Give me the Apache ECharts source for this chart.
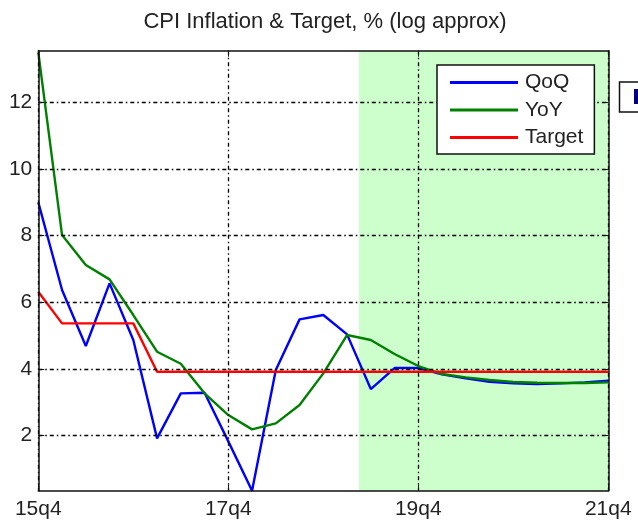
<!DOCTYPE html>
<html>
<head>
<meta charset="utf-8">
<script src="https://cdn.jsdelivr.net/npm/echarts@6/dist/echarts.min.js"></script>
<style>
  html, body { margin: 0; padding: 0; background: #fff; }
  #main { width: 638px; height: 525px; }
</style>
</head>
<body>
<div id="main"></div>
<script>
// 数据
var quarters = ['15q4', '16q1', '16q2', '16q3', '16q4', '17q1', '17q2', '17q3', '17q4',
  '18q1', '18q2', '18q3', '18q4', '19q1', '19q2', '19q3', '19q4',
  '20q1', '20q2', '20q3', '20q4', '21q1', '21q2', '21q3', '21q4'];
var qoq = [9.0, 6.37, 4.69, 6.57, 4.87, 1.92, 3.27, 3.29, 1.83, 0.35, 3.97, 5.49, 5.62,
  5.04, 3.4, 4.03, 4.03, 3.84, 3.72, 3.62, 3.57, 3.55, 3.57, 3.6, 3.65];
var yoy = [13.5, 8.02, 7.12, 6.69, 5.62, 4.52, 4.16, 3.27, 2.62, 2.19, 2.37, 2.92, 3.87,
  5.02, 4.87, 4.45, 4.09, 3.85, 3.75, 3.67, 3.61, 3.59, 3.58, 3.58, 3.6];
var target = [6.32, 5.37, 5.37, 5.37, 5.37, 3.92, 3.92, 3.92, 3.92, 3.92, 3.92, 3.92, 3.92,
  3.92, 3.92, 3.92, 3.92, 3.92, 3.92, 3.92, 3.92, 3.92, 3.92, 3.92, 3.92];
var yTicks = [2, 4, 6, 8, 10, 12];
var forecastRange = [13.5, 24];

function pairs(arr) {
  return arr.map(function (v, i) { return [i, v]; });
}

var font = 'Liberation Sans';
var gridDash = [4, 3, 1.5, 3];

var xBase = {
  type: 'value',
  min: 0,
  max: quarters.length - 1,
  interval: 8,
  z: 5,
  axisLine: { show: true, onZero: false, lineStyle: { color: '#111', width: 1.5 } },
  axisTick: { show: true, inside: true, length: 6, lineStyle: { color: '#111', width: 1 } },
  splitLine: { show: false }
};
var yBase = {
  type: 'value',
  min: 0.35,
  max: 13.55,
  z: 5,
  axisLine: { show: true, onZero: false, lineStyle: { color: '#111', width: 1.5 } },
  axisTick: { show: true, inside: true, length: 6, customValues: yTicks, lineStyle: { color: '#111', width: 1 } },
  splitLine: { show: false }
};

var option = {
  animation: false,
  backgroundColor: '#fff',
  title: {
    text: 'CPI Inflation & Target, % (log approx)',
    left: 325,
    top: 11,
    padding: 0,
    textAlign: 'center',
    textStyle: { fontFamily: font, fontSize: 22, fontWeight: 'normal', color: '#222' }
  },
  grid: { left: 38.3, right: 29.7, top: 50.7, bottom: 34.3 },
  legend: {
    data: ['QoQ', 'YoY', 'Target'],
    orient: 'vertical',
    left: 437,
    top: 65,
    z: 20,
    padding: [7, 11, 6, 13],
    itemGap: 6.5,
    itemWidth: 68,
    itemHeight: 3,
    icon: 'rect',
    backgroundColor: '#fff',
    borderColor: '#111',
    borderWidth: 1.5,
    borderRadius: 0,
    textStyle: { fontFamily: font, fontSize: 21, color: '#222', padding: [0, 0, 0, 2] }
  },
  xAxis: [
    Object.assign({}, xBase, {
      position: 'bottom',
      axisLabel: {
        fontFamily: font, fontSize: 21, color: '#222', margin: 8,
        formatter: function (v) { return quarters[v] || ''; }
      },
      splitLine: { show: true, lineStyle: { color: '#000', width: 1.3, type: gridDash } }
    }),
    Object.assign({}, xBase, { position: 'top', axisLabel: { show: false } })
  ],
  yAxis: [
    Object.assign({}, yBase, {
      position: 'left',
      axisLabel: { fontFamily: font, fontSize: 21, color: '#222', margin: 6, customValues: yTicks },
      splitLine: { show: true, lineStyle: { color: '#000', width: 1.3, type: gridDash } }
    }),
    Object.assign({}, yBase, { position: 'right', axisLabel: { show: false } })
  ],
  series: [
    {
      name: 'forecast',
      type: 'line',
      z: 1,
      data: [],
      markArea: {
        silent: true,
        itemStyle: { color: '#ccffcc', opacity: 1 },
        data: [[{ xAxis: forecastRange[0] }, { xAxis: forecastRange[1] }]]
      }
    },
    {
      name: 'QoQ', type: 'line', data: pairs(qoq), symbol: 'none', z: 2,
      lineStyle: { color: '#0000ff', width: 2.4 }, itemStyle: { color: '#0000ff' }
    },
    {
      name: 'YoY', type: 'line', data: pairs(yoy), symbol: 'none', z: 2,
      lineStyle: { color: '#008000', width: 2.4 }, itemStyle: { color: '#008000' }
    },
    {
      name: 'Target', type: 'line', data: pairs(target), symbol: 'none', z: 2,
      lineStyle: { color: '#ff0000', width: 2.4 }, itemStyle: { color: '#ff0000' }
    }
  ],
  graphic: [
    // 右侧被裁掉的图例框
    { type: 'rect', z: 30, shape: { x: 619.5, y: 82, width: 30, height: 30 },
      style: { fill: '#fff', stroke: '#111', lineWidth: 1.5 } },
    { type: 'rect', z: 31, shape: { x: 634, y: 89, width: 10, height: 15 },
      style: { fill: '#000080' } }
  ]
};

var chart = echarts.init(document.getElementById('main'));
chart.setOption(option);
</script>
</body>
</html>
